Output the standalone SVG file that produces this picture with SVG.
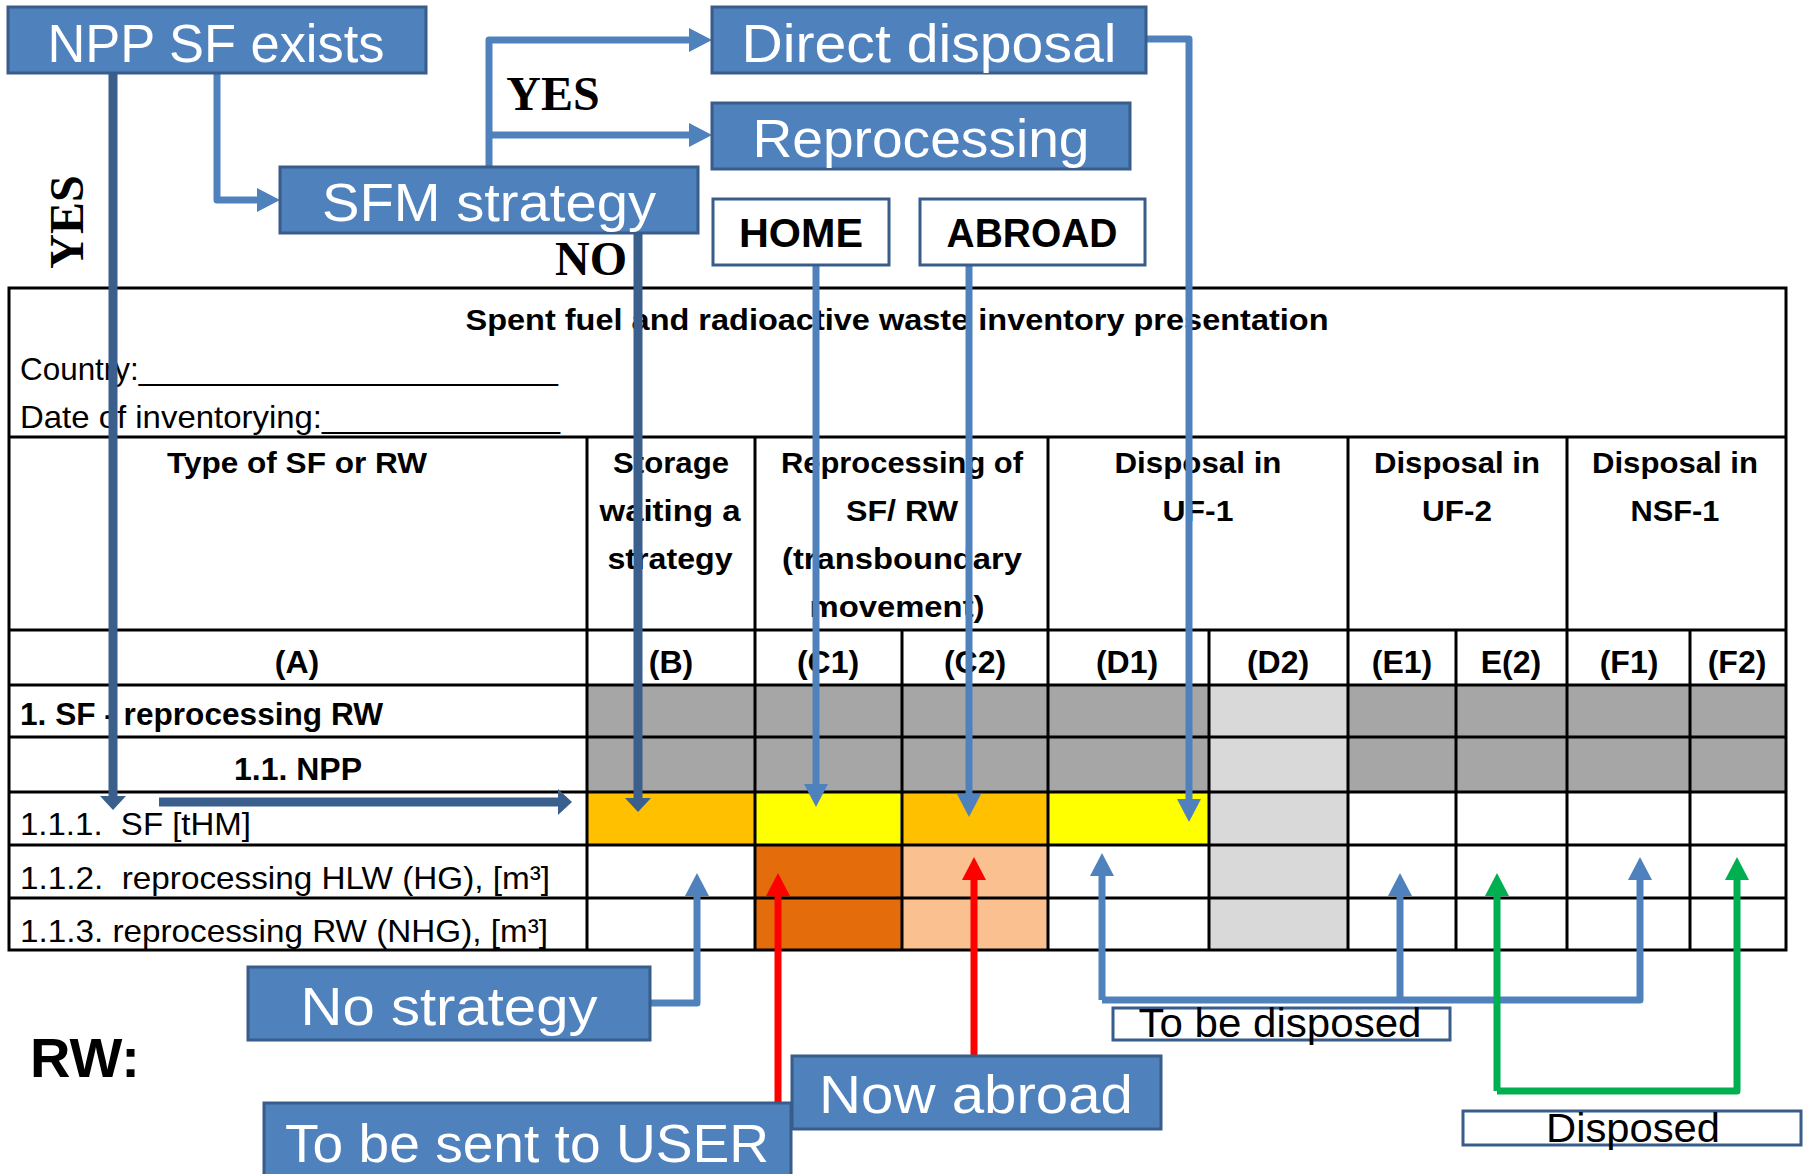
<svg xmlns="http://www.w3.org/2000/svg" width="1804" height="1174" viewBox="0 0 1804 1174">
<style>
.box{fill:#4f81bd;stroke:#385d8a;stroke-width:3}
.wbox{fill:#fff;stroke:#385d8a;stroke-width:3}
.bt{font-family:"Liberation Sans",Arial,sans-serif;font-size:54px;fill:#fff;text-anchor:middle}
.hb{font-family:"Liberation Sans",Arial,sans-serif;font-weight:bold;font-size:40px;fill:#000;text-anchor:middle}
.st{font-family:"Liberation Sans",Arial,sans-serif;font-size:40px;fill:#000;text-anchor:middle}
.lab{font-family:"Liberation Serif","Times New Roman",serif;font-weight:bold;font-size:48px;fill:#000;text-anchor:middle}
.tb{font-family:"Liberation Sans",Arial,sans-serif;font-weight:bold;font-size:30px;fill:#000}
.tn{font-family:"Liberation Sans",Arial,sans-serif;font-size:32px;fill:#000;white-space:pre}
.c{text-anchor:middle}
.grid{stroke:#000;stroke-width:3;fill:none}
.lb{fill:none;stroke:#4f81bd;stroke-width:7;stroke-linejoin:round}
.dk{fill:none;stroke:#3a5f8d;stroke-width:9}
.rd{fill:none;stroke:#ff0000;stroke-width:7}
.gr{fill:none;stroke:#00b050;stroke-width:7;stroke-linejoin:round}
</style>
<defs>
<marker id="aB" markerUnits="userSpaceOnUse" markerWidth="23" markerHeight="24" refX="5" refY="12" orient="auto"><path d="M0,0 L23,12 L0,24 z" fill="#4f81bd"/></marker>
<marker id="aR" markerUnits="userSpaceOnUse" markerWidth="23" markerHeight="24" refX="5" refY="12" orient="auto"><path d="M0,0 L23,12 L0,24 z" fill="#ff0000"/></marker>
<marker id="aG" markerUnits="userSpaceOnUse" markerWidth="23" markerHeight="24" refX="5" refY="12" orient="auto"><path d="M0,0 L23,12 L0,24 z" fill="#00b050"/></marker>
<marker id="aD" markerUnits="userSpaceOnUse" markerWidth="14" markerHeight="26" refX="3" refY="13" orient="auto"><path d="M0,0 L14,13 L0,26 z" fill="#3a5f8d"/></marker>
</defs>
<rect width="1804" height="1174" fill="#fff"/>

<g id="table">
<rect x="587" y="685" width="621" height="107" fill="#a6a6a6"/>
<rect x="1348" y="685" width="438" height="107" fill="#a6a6a6"/>
<rect x="1208" y="685" width="140" height="265" fill="#d9d9d9"/>
<rect x="587" y="792" width="168" height="53" fill="#ffc000"/>
<rect x="755" y="792" width="147" height="53" fill="#ffff00"/>
<rect x="902" y="792" width="146" height="53" fill="#ffc000"/>
<rect x="1048" y="792" width="160" height="53" fill="#ffff00"/>
<rect x="755" y="845" width="147" height="105" fill="#e46c0a"/>
<rect x="902" y="845" width="146" height="105" fill="#fac090"/>
<rect class="grid" x="9" y="288" width="1777" height="662"/>
<path class="grid" d="M9,437H1786 M9,630H1786 M9,685H1786 M9,737H1786 M9,792H1786 M9,845H1786 M9,898H1786 M587,437V950 M755,437V950 M1048,437V950 M1348,437V950 M1567,437V950 M902,630V950 M1209,630V950 M1456,630V950 M1690,630V950"/>
<text class="tb c" x="897" y="330" textLength="863" lengthAdjust="spacingAndGlyphs">Spent fuel and radioactive waste inventory presentation</text>
<text class="tn" x="20" y="380" textLength="538" lengthAdjust="spacingAndGlyphs">Country:________________________</text>
<text class="tn" x="20" y="428" textLength="540" lengthAdjust="spacingAndGlyphs">Date of inventorying:_____________</text>
<text class="tb c" x="297" y="473" textLength="260" lengthAdjust="spacingAndGlyphs">Type of SF or RW</text>
<text class="tb c" x="671" y="473" textLength="116" lengthAdjust="spacingAndGlyphs">Storage</text>
<text class="tb c" x="670" y="521" textLength="141" lengthAdjust="spacingAndGlyphs">waiting a</text>
<text class="tb c" x="670" y="569" textLength="125" lengthAdjust="spacingAndGlyphs">strategy</text>
<text class="tb c" x="902" y="473" textLength="242" lengthAdjust="spacingAndGlyphs">Reprocessing of</text>
<text class="tb c" x="902" y="521" textLength="112" lengthAdjust="spacingAndGlyphs">SF/ RW</text>
<text class="tb c" x="902" y="569" textLength="240" lengthAdjust="spacingAndGlyphs">(transboundary</text>
<text class="tb c" x="897" y="617" textLength="175" lengthAdjust="spacingAndGlyphs">movement)</text>
<text class="tb c" x="1198" y="473" textLength="167" lengthAdjust="spacingAndGlyphs">Disposal in</text>
<text class="tb c" x="1198" y="521" textLength="71" lengthAdjust="spacingAndGlyphs">UF-1</text>
<text class="tb c" x="1457" y="473" textLength="166" lengthAdjust="spacingAndGlyphs">Disposal in</text>
<text class="tb c" x="1457" y="521" textLength="70" lengthAdjust="spacingAndGlyphs">UF-2</text>
<text class="tb c" x="1675" y="473" textLength="166" lengthAdjust="spacingAndGlyphs">Disposal in</text>
<text class="tb c" x="1675" y="521" textLength="89" lengthAdjust="spacingAndGlyphs">NSF-1</text>
<g class="tb c" style="font-size:32px">
<text x="297" y="673">(A)</text>
<text x="671" y="673">(B)</text>
<text x="828" y="673">(C1)</text>
<text x="975" y="673">(C2)</text>
<text x="1127" y="673">(D1)</text>
<text x="1278" y="673">(D2)</text>
<text x="1402" y="673">(E1)</text>
<text x="1511" y="673">E(2)</text>
<text x="1629" y="673">(F1)</text>
<text x="1737" y="673">(F2)</text>
</g>
<text class="tb" style="font-size:32px" x="20" y="725" textLength="363" lengthAdjust="spacingAndGlyphs">1. SF - reprocessing RW</text>
<text class="tb c" style="font-size:32px" x="298" y="780" textLength="128" lengthAdjust="spacingAndGlyphs">1.1. NPP</text>
<text class="tn" x="20" y="835" textLength="231" lengthAdjust="spacingAndGlyphs">1.1.1.  SF [tHM]</text>
<text class="tn" x="20" y="889" textLength="530" lengthAdjust="spacingAndGlyphs">1.1.2.  reprocessing HLW (HG), [m³]</text>
<text class="tn" x="20" y="942" textLength="528" lengthAdjust="spacingAndGlyphs">1.1.3. reprocessing RW (NHG), [m³]</text>
</g>

<g id="connectors">
<path class="dk" d="M113,73 V799" marker-end="url(#aD)"/>
<path class="dk" d="M159,802 H561" marker-end="url(#aD)"/>
<path class="dk" d="M638,234 V801" marker-end="url(#aD)"/>
<path class="lb" d="M217,73 V200 H262" marker-end="url(#aB)"/>
<path class="lb" d="M489,166 V40 H694" marker-end="url(#aB)"/>
<path class="lb" d="M489,135 H694" marker-end="url(#aB)"/>
<path class="lb" d="M1146,39 H1189 V804" marker-end="url(#aB)"/>
<path class="lb" d="M816,266 V789" marker-end="url(#aB)"/>
<path class="lb" d="M969,266 V799" marker-end="url(#aB)"/>
<path class="lb" d="M650,1003 H697 V891" marker-end="url(#aB)"/>
<path class="lb" d="M1102,1000 V871" marker-end="url(#aB)"/>
<path class="lb" d="M1102,1000 H1640 V875" marker-end="url(#aB)"/>
<path class="lb" d="M1400,1000 V891" marker-end="url(#aB)"/>
<path class="gr" d="M1497,1091 V891" marker-end="url(#aG)"/>
<path class="gr" d="M1497,1091 H1737 V875" marker-end="url(#aG)"/>
<path class="rd" d="M778,1103 V891" marker-end="url(#aR)"/>
<path class="rd" d="M974,1055 V875" marker-end="url(#aR)"/>
<text class="lab" x="553" y="110">YES</text>
<text class="lab" transform="translate(83,222) rotate(-90)">YES</text>
<text class="lab" x="591" y="275">NO</text>
</g>

<g id="npp-sf-exists"><rect class="box" x="8" y="7" width="418" height="66"/><text class="bt" x="216" y="62" textLength="337" lengthAdjust="spacingAndGlyphs">NPP SF exists</text></g>
<g id="sfm-strategy"><rect class="box" x="280" y="167" width="418" height="66"/><text class="bt" x="489" y="221" textLength="334" lengthAdjust="spacingAndGlyphs">SFM strategy</text></g>
<g id="direct-disposal"><rect class="box" x="712" y="7" width="434" height="66"/><text class="bt" x="929" y="62" textLength="375" lengthAdjust="spacingAndGlyphs">Direct disposal</text></g>
<g id="reprocessing"><rect class="box" x="712" y="103" width="418" height="66"/><text class="bt" x="921" y="157" textLength="337" lengthAdjust="spacingAndGlyphs">Reprocessing</text></g>
<g id="home"><rect class="wbox" x="713" y="199" width="176" height="66"/><text class="hb" x="801" y="247" textLength="124" lengthAdjust="spacingAndGlyphs">HOME</text></g>
<g id="abroad"><rect class="wbox" x="920" y="199" width="225" height="66"/><text class="hb" x="1032" y="247" textLength="171" lengthAdjust="spacingAndGlyphs">ABROAD</text></g>
<g id="no-strategy"><rect class="box" x="248" y="967" width="402" height="73"/><text class="bt" x="449" y="1025" textLength="297" lengthAdjust="spacingAndGlyphs">No strategy</text></g>
<g id="now-abroad"><rect class="box" x="792" y="1056" width="369" height="73"/><text class="bt" x="976" y="1113" textLength="314" lengthAdjust="spacingAndGlyphs">Now abroad</text></g>
<g id="to-be-sent"><rect class="box" x="264" y="1103" width="527" height="78"/><text class="bt" x="527" y="1162" textLength="484" lengthAdjust="spacingAndGlyphs">To be sent to USER</text></g>
<g id="to-be-disposed"><rect class="wbox" x="1113" y="1008" width="337" height="32"/><text class="st" x="1280" y="1037" textLength="283" lengthAdjust="spacingAndGlyphs">To be disposed</text></g>
<g id="disposed"><rect class="wbox" x="1463" y="1111" width="338" height="34"/><text class="st" x="1633" y="1142" textLength="174" lengthAdjust="spacingAndGlyphs">Disposed</text></g>
<g id="rw-label"><text class="tb" style="font-size:56px" x="30" y="1077">RW:</text></g>
</svg>
